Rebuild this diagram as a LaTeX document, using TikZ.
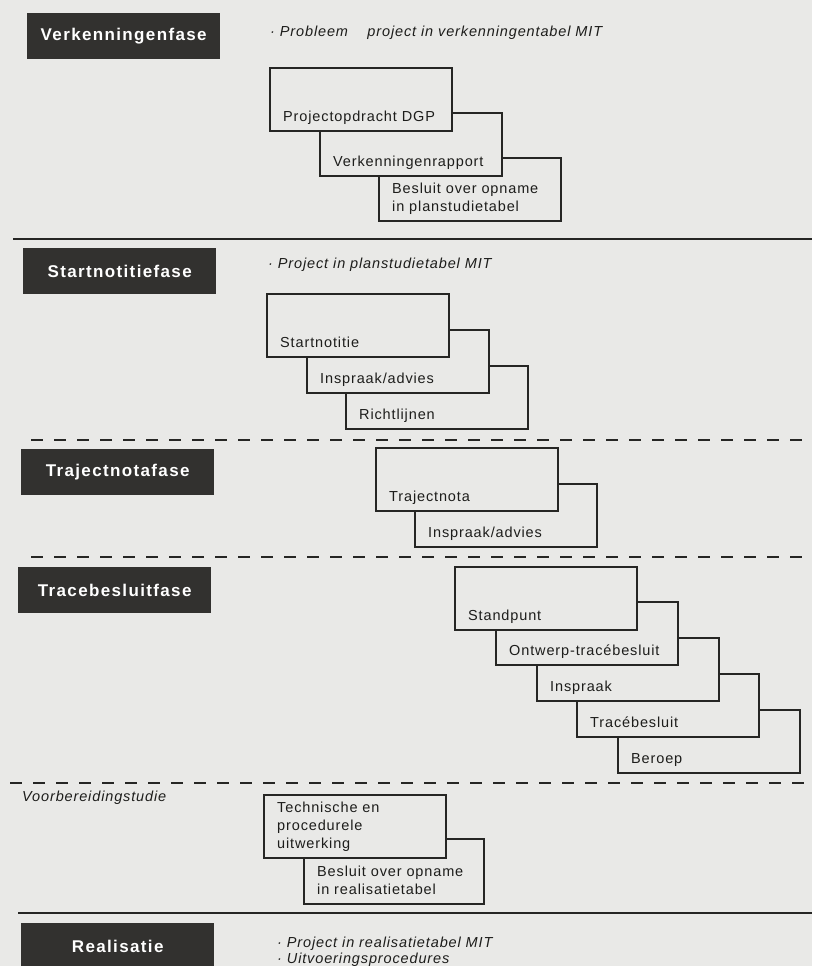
\documentclass[tikz,border=0pt]{standalone}
\usepackage{fontspec}
\setmainfont{Liberation Sans}[LetterSpace=6]
\newfontfamily\phasefamily{Liberation Sans}[LetterSpace=8]
\usepackage{tikz}
\usetikzlibrary{positioning}
\definecolor{colorpaper} {RGB}{233,233,231}
\definecolor{colorphase} {RGB}{50 ,49 ,47 }
\definecolor{colortext}  {RGB}{29 ,29 ,27 }
\definecolor{colorline}  {RGB}{38 ,38 ,36 }
\newcommand{\phasetitlefont}{\phasefamily\bfseries\fontsize{17}{20}\selectfont}
\newcommand{\stepfont}{\fontsize{14.5}{18}\selectfont}
\newcommand{\remarkfont}{\itshape\fontsize{14.5}{16}\selectfont}

\begin{document}
\begin{tikzpicture}[
    x=1pt, y=-1pt,
    phase/.style={fill=colorphase,text=white,font={\phasetitlefont},minimum width=193pt,minimum height=46pt,inner sep=0pt,anchor=north west},
    stepbox/.style={draw=colorline,fill=colorpaper,line width=2pt,minimum width=182pt,minimum height=63pt,inner sep=0pt,anchor=north west},
    boxtxt/.style={text=colortext,font={\stepfont},align=left,inner sep=0pt,anchor=south west,execute at end node=\strut},
    remark/.style={text=colortext,font={\remarkfont},align=left,inner sep=0pt,anchor=west},
    solidline/.style={draw=colorline,line width=2pt},
    dashline/.style={draw=colorline,line width=2pt,dash pattern=on 12pt off 11pt},
]
    \fill[colorpaper] (0,0) rectangle (812,966);
    \useasboundingbox (0,0) rectangle (812,966);

    % Verkenningenfase
    \node[phase] at (27,13) (verk) {Verkenningenfase};
    \node[remark] at (270,33) (verkNote) {· Probleem\quad\ project in verkenningentabel MIT};

    \node[stepbox] at (378,157) (besluitPlan) {};
    \node[stepbox] at (319,112) (rapport) {};
    \node[stepbox] at (269,67) (opdracht) {};
    \node[boxtxt,above right=5pt and 14pt of opdracht.south west] (opdrachtTxt) {Projectopdracht DGP};
    \node[boxtxt,above right=5pt and 14pt of rapport.south west] (rapportTxt) {Verkenningenrapport};
    \node[boxtxt,above right=5pt and 14pt of besluitPlan.south west] (besluitPlanTxt) {Besluit over opname\\in planstudietabel};

    \draw[solidline] (13,239) -- (812,239);

    % Startnotitiefase
    \node[phase] at (23,248) (start) {Startnotitiefase};
    \node[remark] at (268,265) (startNote) {· Project in planstudietabel MIT};

    \node[stepbox] at (345,365) (richtlijnen) {};
    \node[stepbox] at (306,329) (inspraakStart) {};
    \node[stepbox] at (266,293) (startnotitie) {};
    \node[boxtxt,above right=5pt and 14pt of startnotitie.south west] (startnotitieTxt) {Startnotitie};
    \node[boxtxt,above right=5pt and 14pt of inspraakStart.south west] (inspraakStartTxt) {Inspraak/advies};
    \node[boxtxt,above right=5pt and 14pt of richtlijnen.south west] (richtlijnenTxt) {Richtlijnen};

    \draw[dashline] (31,440) -- (812,440);

    % Trajectnotafase
    \node[phase] at (21,449) (traject) {Trajectnotafase};

    \node[stepbox] at (414,483) (inspraakTraject) {};
    \node[stepbox] at (375,447) (trajectnota) {};
    \node[boxtxt,above right=5pt and 14pt of trajectnota.south west] (trajectnotaTxt) {Trajectnota};
    \node[boxtxt,above right=5pt and 14pt of inspraakTraject.south west] (inspraakTrajectTxt) {Inspraak/advies};

    \draw[dashline] (31,557) -- (812,557);

    % Tracebesluitfase
    \node[phase] at (18,567) (trace) {Tracebesluitfase};

    \node[stepbox] at (617,709) (beroep) {};
    \node[stepbox] at (576,673) (tracebesluit) {};
    \node[stepbox] at (536,637) (inspraak) {};
    \node[stepbox] at (495,601) (ontwerp) {};
    \node[stepbox] at (454,566) (standpunt) {};
    \node[boxtxt,above right=5pt and 14pt of standpunt.south west] (standpuntTxt) {Standpunt};
    \node[boxtxt,above right=5pt and 14pt of ontwerp.south west] (ontwerpTxt) {Ontwerp-tracébesluit};
    \node[boxtxt,above right=5pt and 14pt of inspraak.south west] (inspraakTxt) {Inspraak};
    \node[boxtxt,above right=5pt and 14pt of tracebesluit.south west] (tracebesluitTxt) {Tracébesluit};
    \node[boxtxt,above right=5pt and 14pt of beroep.south west] (beroepTxt) {Beroep};

    \draw[dashline] (10,783) -- (812,783);

    % Voorbereidingstudie
    \node[remark] at (22,798) (voorb) {Voorbereidingstudie};

    \node[stepbox,minimum width=180pt,minimum height=65pt] at (303,838) (besluitReal) {};
    \node[stepbox] at (263,794) (uitwerking) {};
    \node[boxtxt,above right=5pt and 14pt of uitwerking.south west] (uitwerkingTxt) {Technische en\\procedurele\\uitwerking};
    \node[boxtxt,above right=5pt and 14pt of besluitReal.south west] (besluitRealTxt) {Besluit over opname\\in realisatietabel};

    \draw[solidline] (18,913) -- (812,913);

    % Realisatie
    \node[phase,minimum height=50pt] at (21,923) (real) {\raisebox{3pt}{Realisatie}};
    \node[remark] at (277,944) (realNote) {· Project in realisatietabel MIT};
    \node[remark] at (277,960) (realNote2) {· Uitvoeringsprocedures};

\end{tikzpicture}
\end{document}
